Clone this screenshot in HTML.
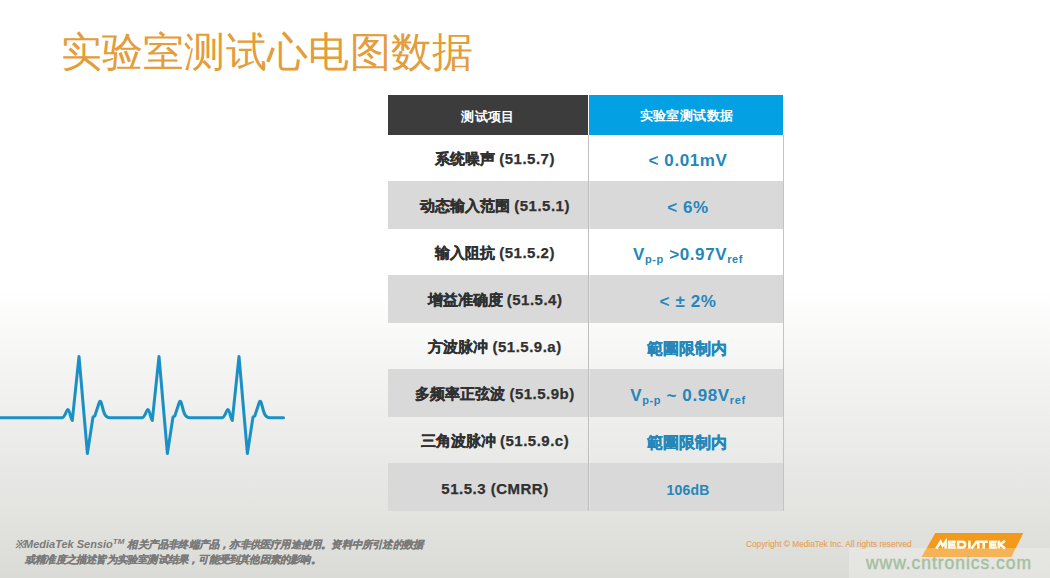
<!DOCTYPE html>
<html><head><meta charset="utf-8">
<style>
*{margin:0;padding:0;box-sizing:border-box}
html,body{width:1050px;height:578px;overflow:hidden}
body{position:relative;font-family:"Liberation Sans",sans-serif;
background:linear-gradient(to bottom,#ffffff 0px,#ffffff 290px,#f4f4f3 370px,#e9e9e7 460px,#e2e3df 520px,#dadbd6 578px);}
.title{position:absolute;left:60.5px;top:24px;font-size:41px;line-height:56px;color:#e39d3a;font-weight:400;white-space:nowrap;letter-spacing:0.3px}
.tbl{position:absolute;left:388px;top:95px;width:395px}
.row{position:absolute;left:388px;width:395px}
.c{position:absolute;top:0;height:100%;display:flex;align-items:center;justify-content:center;white-space:nowrap}
.l{left:7px;width:200px;color:#303030;font-weight:700;font-size:15px;padding-top:3px}
.l .n{letter-spacing:0.5px;-webkit-text-stroke:0.25px currentColor}
.r{left:200px;width:195px;color:#2586ba;font-weight:700;font-size:17px;padding-top:6px;padding-left:5px}
.r .n{letter-spacing:0.6px}
.r .cj{font-size:16px;position:relative;top:0.5px;left:-1px}
.k{-webkit-text-stroke:0.3px currentColor}
.hd .l{left:0;background:#3c3c3c;color:#fff;font-size:13px;padding-top:4px;letter-spacing:0.3px}
.hd .r{background:#03a0e3;color:#fff;font-size:13px;left:201px;width:194px;padding-top:1px;padding-left:1px;letter-spacing:0.4px}
.g{background:#d9d9d9}
.vl{position:absolute;left:588px;top:135px;width:1px;height:376px;background:#bebebe;box-shadow:1px 0 0 rgba(255,255,255,0.3)}
.vr{position:absolute;left:783px;top:135px;width:1px;height:376px;background:#c4c4c4}
sub{font-size:11px;vertical-align:-3px}
.foot{position:absolute;font-size:11px;line-height:15px;color:#7a7a7a;font-weight:700;font-style:italic;white-space:nowrap}
.foot sup{font-size:8px;vertical-align:4px;line-height:0}
.fk{font-size:10.4px;letter-spacing:0.2px;-webkit-text-stroke:0.2px currentColor}
.copy{position:absolute;left:746px;top:538.5px;font-size:8.3px;line-height:10px;color:#e6a35a;white-space:nowrap;-webkit-text-stroke:0.15px currentColor}
.wm{position:absolute;left:849px;top:547.5px;width:201px;height:31px;background:rgba(255,255,255,0.25)}
.wmt{position:absolute;left:866px;top:552.7px;font-size:17.5px;line-height:20px;color:#a3c0a0;white-space:nowrap;letter-spacing:0.95px;-webkit-text-stroke:0.4px currentColor}
</style></head><body>
<div class="title">实验室测试心电图数据</div>

<div class="row hd" style="top:95px;height:40px">
 <div class="c l"><span>测试项目</span></div><div class="c r"><span>实验室测试数据</span></div>
</div>
<div class="row" style="top:135px;height:46px"><div class="c l"><span><span class="k">系统噪声</span> <span class="n">(51.5.7)</span></span></div><div class="c r"><span class="n">&lt; 0.01mV</span></div></div>
<div class="row g" style="top:181px;height:48px"><div class="c l"><span><span class="k">动态输入范围</span> <span class="n">(51.5.1)</span></span></div><div class="c r"><span class="n">&lt; 6%</span></div></div>
<div class="row" style="top:229px;height:46px"><div class="c l"><span><span class="k">输入阻抗</span> <span class="n">(51.5.2)</span></span></div><div class="c r"><span class="n">V<sub>p-p</sub> &gt;0.97V<sub>ref</sub></span></div></div>
<div class="row g" style="top:275px;height:48px"><div class="c l"><span><span class="k">增益准确度</span> <span class="n">(51.5.4)</span></span></div><div class="c r"><span class="n">&lt; ± 2%</span></div></div>
<div class="row" style="top:323px;height:46px"><div class="c l"><span><span class="k">方波脉冲</span> <span class="n">(51.5.9.a)</span></span></div><div class="c r"><span class="k cj">範圍限制内</span></div></div>
<div class="row g" style="top:369px;height:48px"><div class="c l"><span><span class="k">多频率正弦波</span> <span class="n">(51.5.9b)</span></span></div><div class="c r"><span class="n">V<sub>p-p</sub> ~ 0.98V<sub>ref</sub></span></div></div>
<div class="row" style="top:417px;height:46px"><div class="c l"><span><span class="k">三角波脉冲</span> <span class="n">(51.5.9.c)</span></span></div><div class="c r"><span class="k cj">範圍限制内</span></div></div>
<div class="row g" style="top:463px;height:48px"><div class="c l"><span class="n">51.5.3 (CMRR)</span></div><div class="c r"><span class="n" style="font-size:14px;letter-spacing:0.2px">106dB</span></div></div>
<div class="vl"></div>
<div class="vr"></div>

<svg style="position:absolute;left:0;top:0" width="1050" height="578">
<path fill="none" stroke="#1b90c5" stroke-width="3" stroke-linejoin="round" stroke-linecap="round" d="M0 417.7 L62.0 417.7 C65.0 417.7 66.3 409.6 68.0 409.6 C69.7 409.6 71.0 420.5 72.3 420.5 L79.0 356.4 L87.4 453.5 L93.0 417 L94.8 416 L99.2 402.5 C99.8 400.8 100.6 400.8 101.2 402.5 L103.5 411 C104.6 415 106.0 417.7 109.5 417.7 L142.0 417.7 C145.0 417.7 146.3 409.6 148.0 409.6 C149.7 409.6 151.0 420.5 152.3 420.5 L159.0 356.4 L167.4 453.5 L173.0 417 L174.8 416 L179.2 402.5 C179.8 400.8 180.6 400.8 181.2 402.5 L183.5 411 C184.6 415 186.0 417.7 189.5 417.7 L222.0 417.7 C225.0 417.7 226.3 409.6 228.0 409.6 C229.7 409.6 231.0 420.5 232.3 420.5 L239.0 356.4 L247.4 453.5 L253.0 417 L254.8 416 L259.2 402.5 C259.8 400.8 260.6 400.8 261.2 402.5 L263.5 411 C264.6 415 266.0 417.7 269.5 417.7 L283.5 417.7"/>
</svg>

<div class="foot" style="left:15px;top:536.5px">※MediaTek Sensio<sup>TM</sup> <span class="fk">相关产品非终端产品，亦非供医疗用途使用。资料中所引述的数据</span></div>
<div class="foot" style="left:25px;top:552px"><span class="fk">或精准度之描述皆为实验室测试结果，可能受到其他因素的影响。</span></div>
<div class="copy">Copyright © MediaTek Inc. All rights reserved</div>

<svg style="position:absolute;left:0;top:0" width="1050" height="578">
<polygon points="935.3,532.9 1023.4,532.9 1011.4,557 921.6,557" fill="#f39a1d"/>
<g fill="none" stroke="#fffbea" stroke-width="2.6" stroke-linejoin="miter">
<path d="M936.3 548.6 L940.6 541.7 L942.6 545.8 L945.6 541.7 L945.6 548.6"/>
<path d="M955.8 541.7 H949.1 V547.5 H955.8 M949.1 544.6 H955.3"/>
<path d="M958.1 541.7 H962.3 Q965.2 541.7 965.2 544.6 Q965.2 547.5 962.3 547.5 H958.1 Z"/>
<path d="M969.4 540.6 V548.6"/>
<path d="M971.6 548.6 L976.6 541.7 H978.3 V548.6"/>
<path d="M979.5 541.7 H987.9 M983.7 541.7 V548.6"/>
<path d="M996.8 541.7 H990.4 V547.5 H996.8 M990.4 544.6 H996.3"/>
<path d="M998.8 540.6 V548.6 M1005 540.8 L1000 544.6 L1005 548.4"/>
</g>
</svg>

<div class="wm"></div>
<div class="wmt">www.cntronics.com</div>
</body></html>
